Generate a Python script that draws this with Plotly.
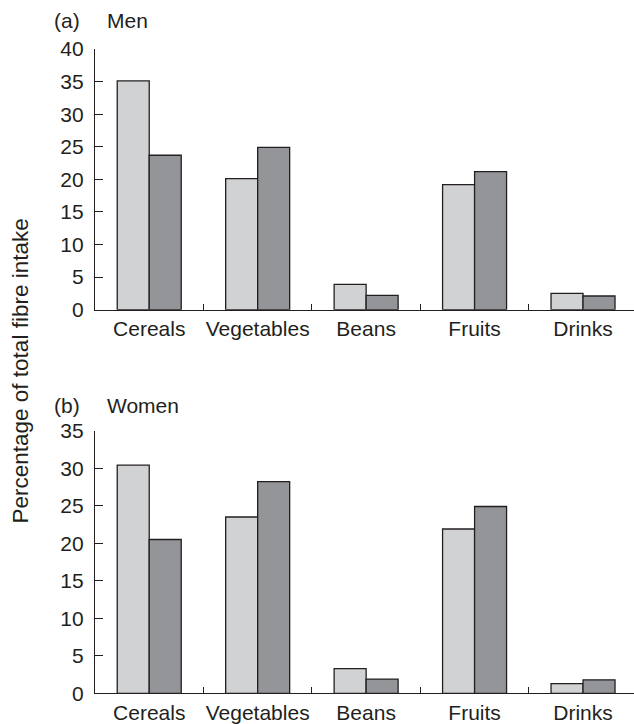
import plotly.graph_objects as go
from plotly.subplots import make_subplots

categories = ["Cereals", "Vegetables", "Beans", "Fruits", "Drinks"]
men_light = [35.1, 20.1, 3.9, 19.2, 2.5]
men_dark = [23.7, 24.9, 2.2, 21.2, 2.1]
women_light = [30.4, 23.5, 3.3, 21.9, 1.3]
women_dark = [20.5, 28.2, 1.9, 24.9, 1.8]

LIGHT = "#d1d2d4"
DARK = "#939598"
INK = "#231f20"
FONT = "Liberation Sans, Arial, sans-serif"
FS = 21
FS_TITLE = 22.5

W, H = 634, 724

fig = make_subplots(rows=2, cols=1)

for row, (lv, dv) in enumerate([(men_light, men_dark), (women_light, women_dark)], start=1):
    for vals, col in ((lv, LIGHT), (dv, DARK)):
        fig.add_trace(
            go.Bar(
                x=categories, y=vals,
                marker=dict(color=col, line=dict(color=INK, width=1.3)),
                showlegend=False, hoverinfo="skip",
            ),
            row=row, col=1,
        )

x_dom = [95 / W, 1.0]
top_dom = [1 - 309.7 / H, 1 - 49 / H]
bot_dom = [1 - 693.3 / H, 1 - 430.7 / H]

common_x = dict(
    type="category", range=[-0.5, 4.47], domain=x_dom,
    showline=True, linecolor=INK, linewidth=1.3,
    ticks="inside", ticklen=6, tickwidth=1.3, tickcolor=INK,
    tickson="boundaries", showgrid=False, zeroline=False,
    tickfont=dict(family=FONT, size=FS, color=INK),
    tickangle=0, automargin=False, ticklabelstandoff=0,
)
common_y = dict(
    showline=True, linecolor=INK, linewidth=1.3,
    ticks="inside", ticklen=8, tickwidth=1.3, tickcolor=INK,
    showgrid=False, zeroline=False, dtick=5,
    tickfont=dict(family=FONT, size=FS, color=INK),
    automargin=False, ticklabelstandoff=6,
)

fig.update_layout(
    xaxis=dict(common_x),
    xaxis2=dict(common_x),
    yaxis=dict(common_y, range=[0, 40], domain=top_dom),
    yaxis2=dict(common_y, range=[0, 35], domain=bot_dom),
    barmode="group", bargap=0.41, bargroupgap=0,
    width=W, height=H,
    margin=dict(l=0, r=0, t=0, b=0),
    paper_bgcolor="white", plot_bgcolor="white",
    font=dict(family=FONT, size=FS, color=INK),
)

def label(text, x_px, y_px, size=FS, **kw):
    fig.add_annotation(
        text=text, xref="paper", yref="paper",
        x=x_px / W, y=1 - y_px / H, showarrow=False,
        font=dict(family=FONT, size=size, color=INK), **kw,
    )

label("(a)", 52, 20, xanchor="left", yanchor="middle")
label("Men", 105, 20, xanchor="left", yanchor="middle")
label("(b)", 52, 405, xanchor="left", yanchor="middle")
label("Women", 105, 405, xanchor="left", yanchor="middle")
label("Percentage of total fibre intake", 20, 371.5, size=FS_TITLE,
      textangle=-90, xanchor="center", yanchor="middle")

fig.write_html("out.html")
